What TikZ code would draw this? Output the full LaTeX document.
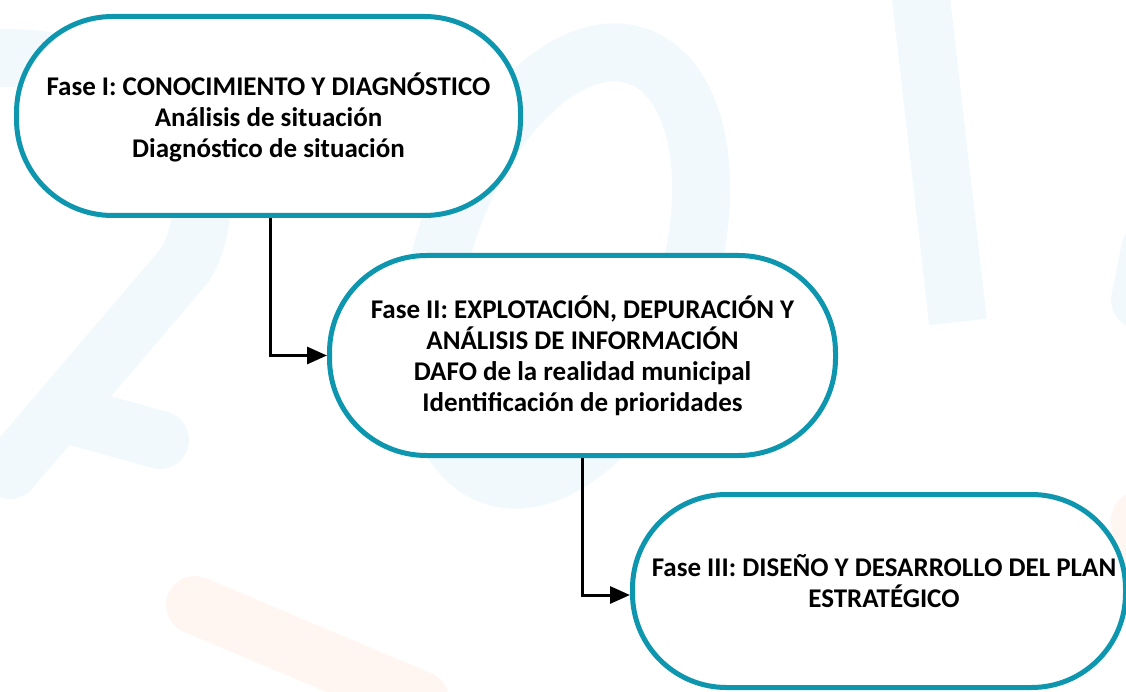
\documentclass[tikz,border=0pt]{standalone}
\usepackage{fontspec}
\setmainfont{Carlito}
\usepackage{xcolor}
\usepackage{tikz}
\usetikzlibrary{arrows.meta,calc,positioning}
\definecolor{faseborder}{RGB}{14,150,174}
\definecolor{wmcyan}{RGB}{241,249,252}
\definecolor{wmorange}{RGB}{255,246,241}

\begin{document}
\begin{tikzpicture}[
  x=1pt, y=1pt,
  fase/.style={rectangle, draw=faseborder, line width=5pt, fill=white, inner sep=0pt},
  fasetext/.style={align=center, font=\fontsize{27}{31}\selectfont\bfseries, inner sep=0pt},
  arrow/.style={-{Triangle[length=20pt, width=17pt]}, line width=3pt, black},
  watermark/.style={line width=58pt, line cap=round}
]

\useasboundingbox (0,0) rectangle (1126,-692);
\clip (0,0) rectangle (1126,-692);

% Background watermark
\draw[watermark, wmcyan, rotate around={-19:(565,-266)}] (565,-266) ellipse [x radius=122, y radius=222];
\draw[watermark, wmcyan, line cap=butt] (920,10) -- (958,-322);
\draw[watermark, wmcyan] (-30,-60) .. controls (150,-40) and (240,-170) .. (185,-265) -- (10,-470);
\draw[watermark, wmcyan] (70,-415) -- (160,-440);
\draw[watermark, wmcyan] (1150,-250) -- (1140,-300);
\draw[watermark, wmorange] (195,-605) -- (420,-700);
\draw[watermark, wmorange] (1140,-520) -- (1145,-600);

% Phases
\node[fase, minimum width=504pt, minimum height=199pt, rounded corners=96pt] (fase1) at (268.5,-116) {};
\node[fase, minimum width=506pt, minimum height=200pt, rounded corners=97pt] (fase2) at (582.5,-355.5) {};
\node[fase, minimum width=493pt, minimum height=193pt, rounded corners=94pt] (fase3) at (879,-591) {};

% Texts
\node[fasetext] (texto1) at ([yshift=-1pt]fase1.center)
  {Fase I: CONOCIMIENTO Y DIAGNÓSTICO\\Análisis de situación\\Diagnóstico de situación};
\node[fasetext] (texto2) at (fase2.center)
  {Fase II: EXPLOTACIÓN, DEPURACIÓN Y\\ANÁLISIS DE INFORMACIÓN\\DAFO de la realidad municipal\\Identificación de prioridades};
\node[fasetext] (texto3) at ([xshift=5pt, yshift=10pt]fase3.center)
  {Fase III: DISEÑO Y DESARROLLO DEL PLAN\\ESTRATÉGICO};

% Arrows
\draw[arrow] ([xshift=1.5pt]fase1.south) |- (fase2.west);
\draw[arrow] (fase2.south) |- ([yshift=-4pt]fase3.west);

\end{tikzpicture}
\end{document}
